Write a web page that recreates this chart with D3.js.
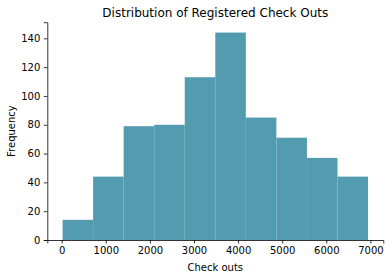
<!DOCTYPE html>
<html>
<head>
<meta charset="utf-8">
<script src="https://cdn.jsdelivr.net/npm/d3@7"></script>
<style>
  html, body { margin: 0; padding: 0; background: #fff; }
  svg { display: block; }
  text { font-family: "DejaVu Sans", sans-serif; fill: #000; }
</style>
</head>
<body>
<svg id="chart" width="392" height="278"></svg>
<script>
// Data
const binEdges = [20, 712.6, 1405.2, 2097.8, 2790.4, 3483, 4175.6, 4868.2, 5560.8, 6253.4, 6946];
const counts = [14, 44, 79, 80, 113, 144, 85, 71, 57, 44];
const xTicks = [0, 1000, 2000, 3000, 4000, 5000, 6000, 7000];
const yTicks = [0, 20, 40, 60, 80, 100, 120, 140];
const title = "Distribution of Registered Check Outs";
const xLabel = "Check outs";
const yLabel = "Frequency";
const barColor = "#539caf";

const svg = d3.select("#chart");
const mLeft = 47.3, mRight = 383.3, mTop = 22.2, mBottom = 240;

const span = binEdges[binEdges.length - 1] - binEdges[0];
const x = d3.scaleLinear()
  .domain([binEdges[0] - 0.05 * span, binEdges[binEdges.length - 1] + 0.05 * span])
  .range([mLeft, mRight]);
const y = d3.scaleLinear()
  .domain([0, d3.max(counts) * 1.05])
  .range([mBottom, mTop]);

const bins = counts.map((c, i) => ({ x0: binEdges[i], x1: binEdges[i + 1], c }));

svg.append("g").selectAll("rect").data(bins).join("rect")
  .attr("x", d => x(d.x0))
  .attr("width", d => x(d.x1) - x(d.x0))
  .attr("y", d => y(d.c))
  .attr("height", d => y(0) - y(d.c))
  .attr("fill", barColor);

const xAxis = svg.append("g")
  .attr("transform", `translate(0,${mBottom})`)
  .call(d3.axisBottom(x).tickValues(xTicks).tickFormat(d3.format("d")).tickSizeOuter(0).tickSize(3.5).tickPadding(3.5));
const yAxis = svg.append("g")
  .attr("transform", `translate(${mLeft},0)`)
  .call(d3.axisLeft(y).tickValues(yTicks).tickFormat(d3.format("d")).tickSizeOuter(0).tickSize(3.5).tickPadding(3.5));

[xAxis, yAxis].forEach(g => {
  g.selectAll("text").style("font-family", "DejaVu Sans").style("font-size", "10px").attr("fill", "#000");
  g.selectAll("line").attr("stroke", "#000").attr("stroke-width", 0.8);
  g.select(".domain").attr("stroke", "#000").attr("stroke-width", 0.8);
});

svg.append("text")
  .attr("x", (mLeft + mRight) / 2).attr("y", 17)
  .attr("text-anchor", "middle")
  .style("font-size", "12px")
  .text(title);

svg.append("text")
  .attr("x", (mLeft + mRight) / 2).attr("y", 271)
  .attr("text-anchor", "middle")
  .style("font-size", "10px")
  .text(xLabel);

svg.append("text")
  .attr("transform", `translate(15,${(mTop + mBottom) / 2}) rotate(-90)`)
  .attr("text-anchor", "middle")
  .style("font-size", "10px")
  .text(yLabel);
</script>
</body>
</html>
